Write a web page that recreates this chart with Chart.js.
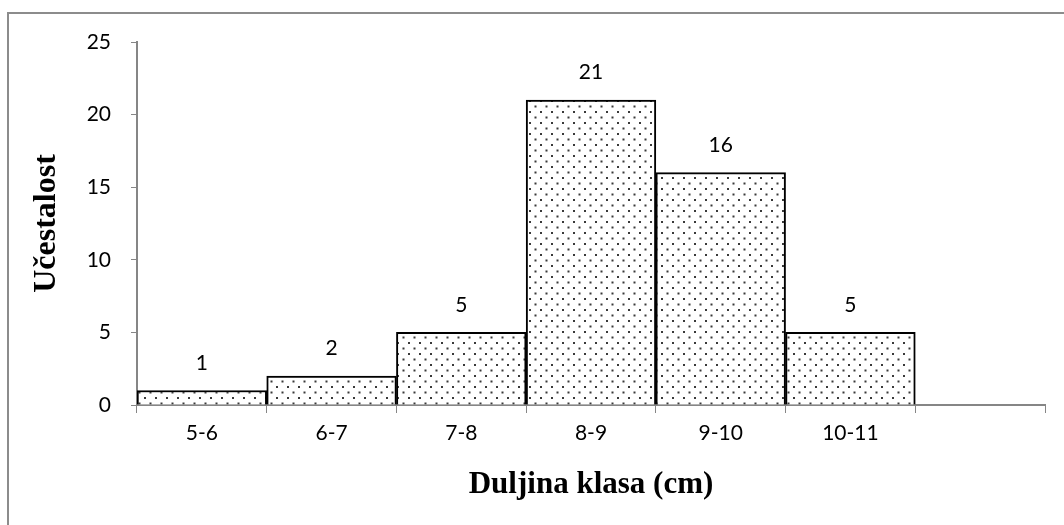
<!DOCTYPE html>
<html>
<head>
  <meta charset="utf-8">
  <title>Učestalost - Duljina klasa</title>
  <script src="https://cdn.jsdelivr.net/npm/chart.js"></script>
  <style>
    html, body { margin: 0; padding: 0; background: #fff; }
    #chartContainer { width: 1064px; height: 525px; }
  </style>
</head>
<body>
  <div id="chartContainer">
    <canvas id="barChart" width="1064" height="525"></canvas>
  </div>

  <script>
    // data
    const classes = ['5-6', '6-7', '7-8', '8-9', '9-10', '10-11', ''];
    const counts = [1, 2, 5, 21, 16, 5, null];
    const yTicks = [0, 5, 10, 15, 20, 25];

    // dotted fill like the original
    function dotPattern() {
      const tile = document.createElement('canvas');
      tile.width = 11;
      tile.height = 11;
      const c = tile.getContext('2d');
      c.fillStyle = '#fff';
      c.fillRect(0, 0, 11, 11);
      c.fillStyle = '#3a3a3a';
      c.fillRect(1, 1, 2, 2);
      c.fillRect(6.5, 6.5, 2, 2);
      return document.getElementById('barChart').getContext('2d').createPattern(tile, 'repeat');
    }

    // value labels above each bar
    const valueLabels = {
      id: 'valueLabels',
      afterDatasetsDraw(chart) {
        const ctx = chart.ctx;
        const meta = chart.getDatasetMeta(0);
        ctx.save();
        ctx.font = '21px Lato, "Open Sans", sans-serif';
        ctx.fillStyle = '#000';
        ctx.textAlign = 'center';
        ctx.textBaseline = 'bottom';
        meta.data.forEach((bar, i) => {
          if (counts[i] == null) return;
          ctx.fillText(String(counts[i]), bar.x, bar.y - 17);
        });
        ctx.restore();
      }
    };

    // outer frame of the chart area
    const frame = {
      id: 'frame',
      beforeDraw(chart) {
        const ctx = chart.ctx;
        ctx.save();
        ctx.strokeStyle = '#8c8c8c';
        ctx.lineWidth = 2;
        ctx.beginPath();
        ctx.moveTo(8, 530);
        ctx.lineTo(8, 13);
        ctx.lineTo(1070, 13);
        ctx.stroke();
        ctx.restore();
      }
    };

    const ctx = document.getElementById('barChart').getContext('2d');
    const myChart = new Chart(ctx, {
      type: 'bar',
      data: {
        labels: classes,
        datasets: [{
          data: counts,
          backgroundColor: dotPattern(),
          borderColor: '#000',
          borderWidth: 2,
          borderSkipped: 'bottom',
          barPercentage: 1,
          categoryPercentage: 1
        }]
      },
      options: {
        responsive: false,
        animation: false,
        events: [],
        layout: { padding: { top: 42, right: 19, left: 0, bottom: 0 } },
        plugins: {
          legend: { display: false },
          tooltip: { enabled: false }
        },
        scales: {
          x: {
            afterFit(scale) { scale.height = 120; },
            grid: {
              offset: true,
              drawOnChartArea: false,
              color: '#868686',
              tickLength: 8,
              tickColor: '#868686'
            },
            border: { color: '#868686', width: 2 },
            ticks: {
              color: '#000',
              font: { family: 'Lato, "Open Sans", sans-serif', size: 21 },
              padding: 8,
              maxRotation: 0
            },
            title: {
              display: true,
              text: 'Duljina klasa (cm)',
              color: '#000',
              font: { family: '"Liberation Serif", "Times New Roman", serif', size: 31, weight: 'bold' },
              padding: { top: 8, bottom: 21 }
            }
          },
          y: {
            min: 0,
            max: 25,
            afterFit(scale) { scale.width = 137; },
            afterBuildTicks(scale) { scale.ticks = yTicks.map(v => ({ value: v })); },
            grid: {
              drawOnChartArea: false,
              color: '#868686',
              tickLength: 6,
              tickColor: '#868686'
            },
            border: { color: '#868686', width: 2 },
            ticks: {
              color: '#000',
              font: { family: 'Lato, "Open Sans", sans-serif', size: 21 },
              padding: 20
            },
            title: {
              display: true,
              text: 'Učestalost',
              color: '#000',
              font: { family: '"Liberation Serif", "Times New Roman", serif', size: 32, weight: 'bold' },
              padding: { top: 28, bottom: 0 }
            }
          }
        }
      },
      plugins: [frame, valueLabels]
    });
  </script>
</body>
</html>
